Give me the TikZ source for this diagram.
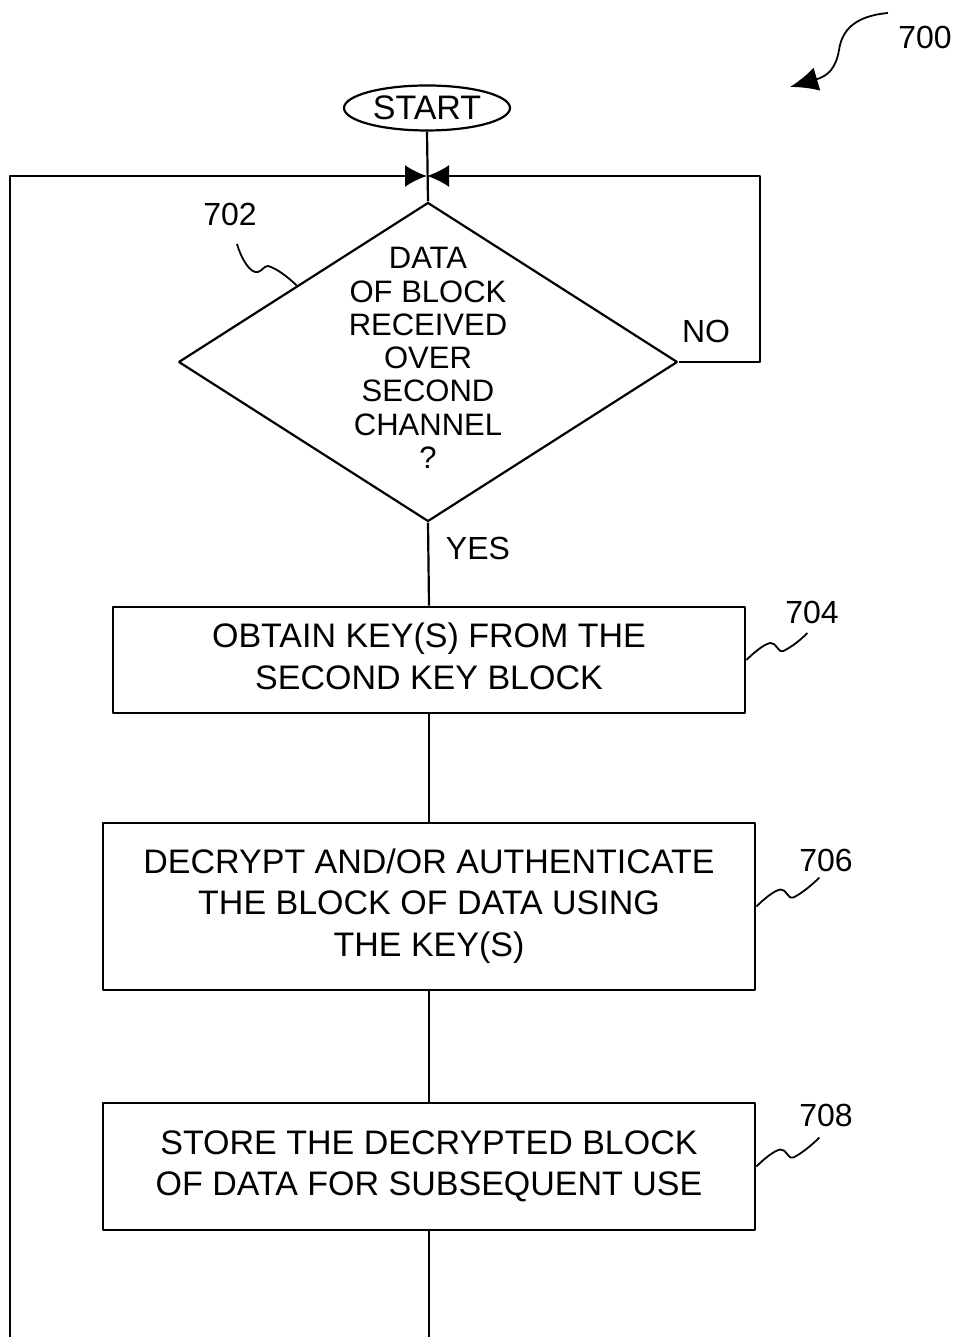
\documentclass[tikz,border=0pt]{standalone}
\usepackage{fontspec}
\setmainfont{Liberation Sans}
\usetikzlibrary{shapes.geometric,arrows.meta,calc}
\begin{document}
\begin{tikzpicture}[>={Latex[length=22bp,width=22bp]},line join=bevel,
  stepbox/.style={draw,line width=2.8bp,inner sep=0pt,font=\fontsize{34bp}{41.5bp}\selectfont},
  reflabel/.style={font=\fontsize{32bp}{36bp}\selectfont},
  flow/.style={line width=2.2bp},
  leader/.style={line width=1.8bp}]
\useasboundingbox (0bp,0bp) rectangle (956bp,1337bp);
%%
  % Node: start
  \node (start) [draw,ellipse,flow,inner sep=0pt,minimum width=166bp,minimum height=45bp,
    font=\fontsize{34bp}{40bp}\selectfont] at (427bp,1229bp) {START};
  % Node: dec
  \node (dec) [draw,diamond,flow,inner sep=0pt,minimum width=499bp,minimum height=319bp] at (428bp,975bp) {};
  \node (dectext) [font=\fontsize{31bp}{33.3bp}\selectfont] at (dec.center) {\begin{tabular}{c}
						DATA \\ OF BLOCK \\ RECEIVED \\ OVER \\ SECOND \\ CHANNEL \\ ?
						\end{tabular}};
  \node (no) [reflabel] at (706bp,1006bp) {NO};
  \node (yes) [reflabel] at (478bp,789bp) {YES};
  % Node: b704
  \node (b704) [stepbox,minimum width=632bp,minimum height=106bp] at (429bp,677bp) {\begin{tabular}{c}
						OBTAIN KEY(S) FROM THE \\ SECOND KEY BLOCK
						\end{tabular}};
  % Node: b706
  \node (b706) [stepbox,minimum width=652bp,minimum height=167bp] at (429bp,430.5bp) {\begin{tabular}{c}
						DECRYPT AND/OR AUTHENTICATE \\ THE BLOCK OF DATA USING \\ THE KEY(S)
						\end{tabular}};
  % Node: b708
  \node (b708) [stepbox,minimum width=652bp,minimum height=127bp] at (429bp,170.5bp) {\begin{tabular}{c}
						STORE THE DECRYPTED BLOCK \\ OF DATA FOR SUBSEQUENT USE
						\end{tabular}};
  % Reference numerals
  \node (l700) [reflabel] at (925bp,1299bp) {700};
  \node (l702) [reflabel] at (230bp,1123bp) {702};
  \node (l704) [reflabel] at (812bp,725bp) {704};
  \node (l706) [reflabel] at (826bp,477bp) {706};
  \node (l708) [reflabel] at (826bp,222bp) {708};
  \coordinate (j) at (427bp,1161bp);
  \coordinate (ltop) at (10bp,1161bp);
  \coordinate (lbot) at (10bp,0bp);
  \coordinate (rtop) at (760bp,1161bp);
  \coordinate (c700) at (888bp,1324bp);
  \coordinate (tip700) at (790bp,1250bp);
  \coordinate (c702) at (237bp,1093bp);
  \coordinate (p702) at ($(dec.west)!0.476!(dec.north)$);
  % Edge: start -> dec
  \draw [flow] (start.south) -- (dec.north);
  % Edge: dec -> start (NO)
  \draw [flow,->] (dec.east) -| (rtop) -- (j);
  % Edge: dec -> b704 (YES)
  \draw [flow] (dec.south) -- (b704.north);
  % Edge: b704 -> b706
  \draw [flow] (b704.south) -- (b706.north);
  % Edge: b706 -> b708
  \draw [flow] (b706.south) -- (b708.north);
  % Edge: b708 -> start (loop back)
  \draw [flow] (b708.south) -- (b708.south |- lbot);
  \draw [flow,->] (lbot) -- (ltop) -- (j);
  % Leaders
  \draw [leader,-{Latex[length=28bp,width=24bp]}] (c700) .. controls (855bp,1321bp) and (842bp,1307bp) .. (839bp,1287bp) .. controls (836bp,1269bp) and (828bp,1261bp) .. (tip700);
  \draw [leader] (c702) .. controls +(4bp,-14bp) and +(-8bp,-2bp) .. ++(21bp,-28bp) .. controls +(4bp,1bp) and +(-4bp,0bp) .. ++(10bp,6bp) .. controls +(8bp,-2bp) and +(-8bp,8bp) .. (p702);
  \draw [leader] (b704.east) .. controls +(8bp,8bp) and +(-6bp,-1bp) .. ++(24bp,17bp) .. controls +(6bp,1bp) and +(-5bp,-3bp) .. ++(13bp,-8bp) .. controls +(8bp,4bp) and +(-8bp,-8bp) .. ++(24bp,18bp);
  \draw [leader] (b706.east) .. controls +(8bp,8bp) and +(-6bp,-1bp) .. ++(24bp,17bp) .. controls +(6bp,1bp) and +(-5bp,-3bp) .. ++(13bp,-8bp) .. controls +(8bp,4bp) and +(-8bp,-8bp) .. ++(26bp,20bp);
  \draw [leader] (b708.east) .. controls +(8bp,8bp) and +(-6bp,-1bp) .. ++(24bp,17bp) .. controls +(6bp,1bp) and +(-5bp,-3bp) .. ++(13bp,-8bp) .. controls +(8bp,4bp) and +(-8bp,-8bp) .. ++(26bp,20bp);
%
\end{tikzpicture}
\end{document}
